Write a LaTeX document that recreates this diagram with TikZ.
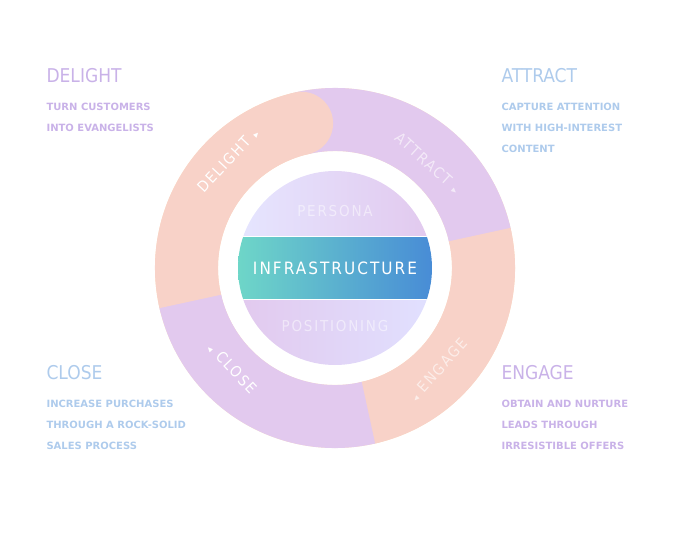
\documentclass[tikz,border=0pt]{standalone}
\usepackage{amssymb}
\usepackage{fontspec}
\usetikzlibrary{calc}
\setmainfont{DejaVu Sans}
\newfontfamily\cond[LetterSpace=12]{DejaVu Sans Condensed}
\newfontfamily\headfont{DejaVu Sans Condensed}
\definecolor{lav}{HTML}{C9B2E8}
\definecolor{sky}{HTML}{AECBEC}
\definecolor{ringbg}{HTML}{FCE1C2}
\definecolor{purp}{HTML}{E2C9EE}
\definecolor{peach}{HTML}{F8D2C8}
\tikzset{
  head/.style={anchor=west, font=\headfont\fontsize{19}{19}\selectfont},
  body/.style={anchor=north west, align=left, font=\bfseries\fontsize{10}{21}\selectfont},
  seg/.style={line width=63pt},
  ringtxt/.style={white, font=\cond\fontsize{15}{15}\selectfont}
}
\begin{document}
\begin{tikzpicture}[x=1pt,y=-1pt]
\useasboundingbox (0,0) rectangle (700,540);
\coordinate (c) at (335,268);
% ring
\draw[ringbg, line width=63pt] (c) circle[radius=148.5];
\foreach \s/\e/\col in {103/13/purp, 13/-77/peach, -77/-167/purp, -167/-257/peach}{
  \draw[seg, \col] ($(c)+(-\s:148.5)$) arc[start angle=-\s, end angle=-\e, radius=148.5];
  \fill[\col] ($(c)+(-\e:148.5)$) circle[radius=31.5];
}
% ring labels
\node[ringtxt, rotate=47] (dl) at (228,160) {DELIGHT {\scriptsize$\blacktriangleright$}};
\node[ringtxt, rotate=-42, opacity=.6] (at) at (428,163) {ATTRACT {\scriptsize$\blacktriangleright$}};
\node[ringtxt, rotate=48, opacity=.6] (en) at (438,370) {{\scriptsize$\blacktriangleleft$} ENGAGE};
\node[ringtxt, rotate=-47] (cl) at (232,368) {{\scriptsize$\blacktriangleleft$} CLOSE};
% center disc
\begin{scope}
\clip (c) circle[radius=97];
\shade[left color=blue!10!white, right color=purp] (238,170) rectangle (432,236);
\shade[left color=purp, right color=blue!12!white] (238,300) rectangle (432,366);
\shade[left color={rgb,255:red,110;green,214;blue,200}, right color={rgb,255:red,72;green,140;blue,214}] (238,237) rectangle (432,299);
\draw[white, line width=1.2pt] (238,236.5) -- (432,236.5) (238,299.5) -- (432,299.5);
\end{scope}
\node[white, opacity=.5, font=\cond\fontsize{15}{15}\selectfont] (pe) at (335,211) {PERSONA};
\node[white, font=\cond\fontsize{17}{17}\selectfont] (inf) at (335,268) {INFRASTRUCTURE};
\node[white, opacity=.5, font=\cond\fontsize{15}{15}\selectfont] (po) at (335,326) {POSITIONING};
% side texts
\node[head, lav] (h1) at (43,76) {DELIGHT};
\node[body, lav] (b1) at (43,100) {TURN CUSTOMERS\\INTO EVANGELISTS};
\node[head, sky] (h2) at (498,76) {ATTRACT};
\node[body, sky] (b2) at (498,100) {CAPTURE ATTENTION\\WITH HIGH-INTEREST\\CONTENT};
\node[head, sky] (h3) at (43,373) {CLOSE};
\node[body, sky] (b3) at (43,397) {INCREASE PURCHASES\\THROUGH A ROCK-SOLID\\SALES PROCESS};
\node[head, lav] (h4) at (498,373) {ENGAGE};
\node[body, lav] (b4) at (498,397) {OBTAIN AND NURTURE\\LEADS THROUGH\\IRRESISTIBLE OFFERS};
\end{tikzpicture}
\end{document}
